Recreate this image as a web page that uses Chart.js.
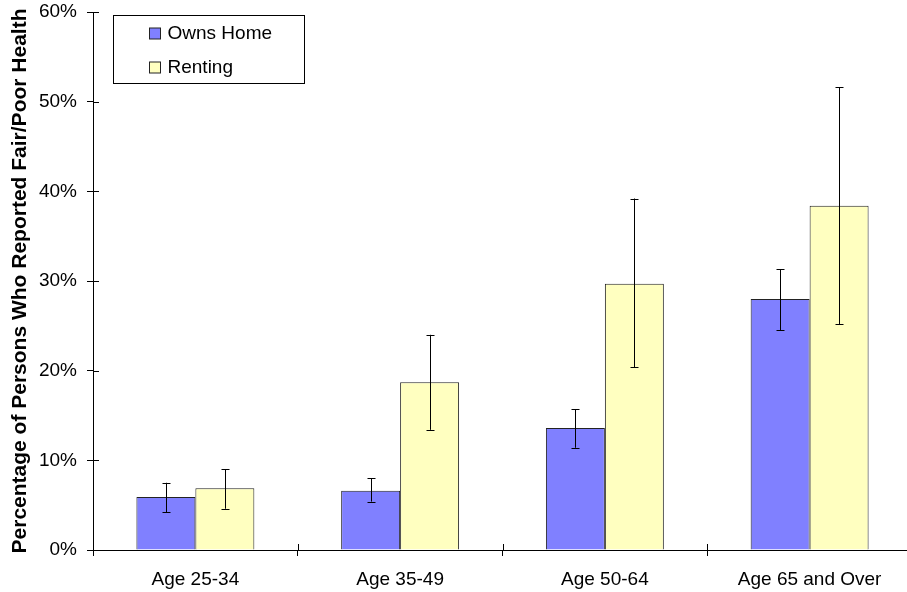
<!DOCTYPE html>
<html>
<head>
<meta charset="utf-8">
<script src="https://cdn.jsdelivr.net/npm/chart.js@4"></script>
<style>
  html, body { margin: 0; padding: 0; background: #fff; overflow: hidden; }
  #wrap { width: 912px; height: 592px; position: relative; }
</style>
</head>
<body>
<div id="wrap"><canvas id="Graph"></canvas></div>
<script>
const categories = ['Age 25-34', 'Age 35-49', 'Age 50-64', 'Age 65 and Over'];

const ownsHome = [5.9, 6.6, 13.6, 28.0];
const ownsLow = [4.2, 5.4, 11.4, 24.5];
const ownsHigh = [7.5, 8.0, 15.7, 31.3];

const renting = [6.9, 18.7, 29.7, 38.4];
const rentLow = [4.6, 13.4, 20.4, 25.2];
const rentHigh = [9.0, 24.0, 39.2, 51.6];

const yTicks = [0, 10, 20, 30, 40, 50, 60];
const yTitle = 'Percentage of Persons Who Reported Fair/Poor Health';

const FONT = '"Liberation Sans", Arial, sans-serif';

Chart.defaults.color = '#000';
Chart.defaults.font.family = FONT;

// error bars from the y scale
const errorBars = {
    id: 'errorBars',
    afterDatasetsDraw(chart) {
        const ctx = chart.ctx;
        const y = chart.scales.y;
        ctx.save();
        ctx.strokeStyle = '#000';
        ctx.lineWidth = 1;
        chart.data.datasets.forEach((ds, di) => {
            const meta = chart.getDatasetMeta(di);
            meta.data.forEach((bar, i) => {
                const x = Math.round(bar.x) + 0.5;
                const top = y.getPixelForValue(ds.errHigh[i]);
                const bot = y.getPixelForValue(ds.errLow[i]);
                ctx.beginPath();
                ctx.moveTo(x, top);
                ctx.lineTo(x, bot);
                ctx.moveTo(x - 4, Math.round(top) + 0.5);
                ctx.lineTo(x + 4, Math.round(top) + 0.5);
                ctx.moveTo(x - 4, Math.round(bot) + 0.5);
                ctx.lineTo(x + 4, Math.round(bot) + 0.5);
                ctx.stroke();
            });
        });
        ctx.restore();
    }
};

// tick marks crossing into the plot + boxed legend
const extras = {
    id: 'extras',
    afterDraw(chart) {
        const ctx = chart.ctx;
        const area = chart.chartArea;
        const xs = chart.scales.x, ys = chart.scales.y;
        ctx.save();
        ctx.strokeStyle = '#000';
        ctx.lineWidth = 1;
        ctx.beginPath();
        ys.ticks.forEach(t => {
            const py = Math.round(ys.getPixelForValue(t.value)) + 0.5;
            ctx.moveTo(area.left, py);
            ctx.lineTo(area.left + 6, py);
        });
        for (let i = 1; i < categories.length; i++) {
            const px = Math.round((xs.getPixelForValue(i - 1) + xs.getPixelForValue(i)) / 2) + 0.5;
            ctx.moveTo(px, area.bottom);
            ctx.lineTo(px, area.bottom - 6);
        }
        ctx.stroke();

        // legend
        const lx = area.left + 20.5, ly = area.top + 3.5;
        ctx.fillStyle = '#fff';
        ctx.fillRect(lx, ly, 191, 68);
        ctx.strokeRect(lx, ly, 191, 68);
        ctx.font = '19px ' + FONT;
        ctx.textBaseline = 'middle';
        chart.data.datasets.forEach((ds, i) => {
            const cy = ly + 18 + i * 34;
            ctx.fillStyle = ds.backgroundColor;
            ctx.fillRect(lx + 36, cy - 5.5, 11, 11);
            ctx.strokeStyle = '#222';
            ctx.strokeRect(lx + 36, cy - 5.5, 11, 11);
            ctx.fillStyle = '#000';
            ctx.fillText(ds.label, lx + 54, cy);
        });
        ctx.restore();
    }
};

const ctx = document.getElementById('Graph').getContext('2d');

new Chart(ctx, {
    type: 'bar',
    data: {
        labels: categories,
        datasets: [{
            label: 'Owns Home',
            data: ownsHome,
            errLow: ownsLow,
            errHigh: ownsHigh,
            backgroundColor: '#8080ff',
            borderColor: '#222',
            borderWidth: 1,
            borderSkipped: 'bottom'
        }, {
            label: 'Renting',
            data: renting,
            errLow: rentLow,
            errHigh: rentHigh,
            backgroundColor: '#ffffc0',
            borderColor: '#222',
            borderWidth: 1,
            borderSkipped: 'bottom'
        }]
    },
    options: {
        responsive: true,
        maintainAspectRatio: false,
        animation: false,
        categoryPercentage: 0.576,
        barPercentage: 1,
        layout: { padding: { top: 12, right: 0, bottom: 0, left: 0 } },
        plugins: {
            legend: { display: false },
            tooltip: { enabled: false }
        },
        scales: {
            x: {
                afterFit: s => { s.height = 42; },
                grid: { drawOnChartArea: false, drawTicks: true, tickLength: 6, color: '#000', offset: true },
                border: { color: '#000', width: 1 },
                ticks: { font: { size: 19 }, padding: 12, color: '#000', maxRotation: 0 }
            },
            y: {
                min: 0,
                max: 60,
                afterFit: s => { s.width = 93; s.paddingTop = 0; s.paddingBottom = 0; },
                afterBuildTicks: s => { s.ticks = yTicks.map(v => ({ value: v })); },
                grid: { drawOnChartArea: false, drawTicks: true, tickLength: 6, color: '#000' },
                border: { color: '#000', width: 1 },
                ticks: {
                    font: { size: 19 },
                    padding: 10,
                    color: '#000',
                    callback: v => v + '%'
                },
                title: {
                    display: true,
                    text: yTitle,
                    color: '#000',
                    font: { size: 21, weight: 'bold' },
                    padding: { top: 8, bottom: 0 }
                }
            }
        }
    },
    plugins: [errorBars, extras]
});
</script>
</body>
</html>
